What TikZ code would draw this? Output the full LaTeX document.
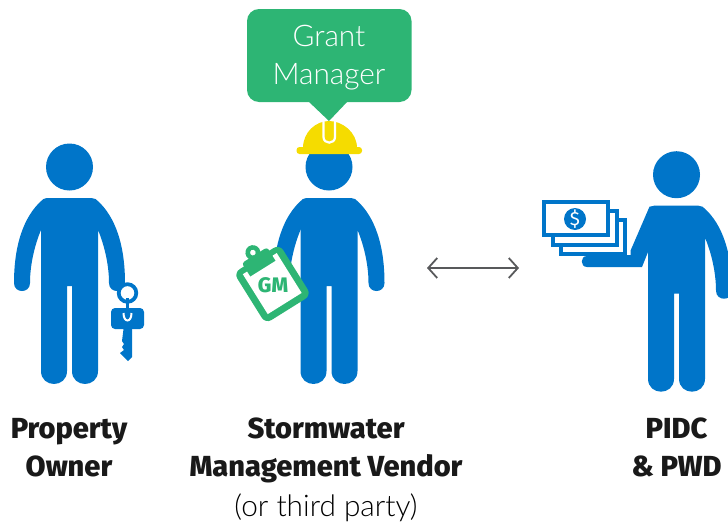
\documentclass[tikz,border=0pt]{standalone}
\usepackage{fontspec}
\setmainfont{Fira Sans}
\newfontfamily\heavyfont{Fira Sans ExtraBold}
\newfontfamily\lightfont{Lato Light}
\usetikzlibrary{positioning, calc, arrows.meta}
\definecolor{figblue}{HTML}{0075C9}
\definecolor{gmgreen}{HTML}{2DB574}
\definecolor{hatyellow}{HTML}{F5DC00}
\definecolor{arrowgray}{HTML}{58595B}
\tikzset{
	label/.style={font=\heavyfont\fontsize{29}{38}\selectfont, text=black!90, align=center, inner sep=0pt},
	thinlabel/.style={font=\lightfont\fontsize{29.8}{38}\selectfont, align=center, inner sep=0pt},
	note/.style={draw=figblue, line width=3.8pt, fill=white},
	pics/person/.style={code={
		\fill[figblue] (0, -31) circle[radius=23.5];
		\fill[figblue] (-22, 0) -- (22, 0) .. controls (24, 0) .. (26, 1)
			.. controls (42, 14) and (55.5, 40) .. (55.5, 85)
			.. controls (55.5, 95.7) and (39.5, 95.7) .. (39.5, 85)
			.. controls (39.5, 65) and (34, 45) .. (28.5, 32)
			-- (28.5, 173) .. controls (28.5, 190.3) and (2.5, 190.3) .. (2.5, 173)
			-- (2.5, 88) -- (-2.5, 88) -- (-2.5, 173)
			.. controls (-2.5, 190.3) and (-28.5, 190.3) .. (-28.5, 173)
			-- (-28.5, 32) -- (-28.5, 5) .. controls (-28, 2) and (-25, 0) .. (-22, 0) -- cycle;
	}},
	pics/hangarm/.style={code={
		\fill[figblue] (-22, 0) .. controls (-24, 0) .. (-26, 1)
			.. controls (-42, 14) and (-55.5, 40) .. (-55.5, 85)
			.. controls (-55.5, 95.7) and (-39.5, 95.7) .. (-39.5, 85)
			.. controls (-39.5, 65) and (-34, 45) .. (-28.5, 32) -- (-20, 20) -- cycle;
	}}
}
\begin{document}
\begin{tikzpicture}[x=1pt, y=-1pt]
	\useasboundingbox (0, 0) rectangle (728, 522);

	% property owner
	\pic at (69.5, 198) {person};
	\pic at (69.5, 198) {hangarm};
	\draw[figblue, fill=white, line width=3.8pt] (127.5, 293) circle[radius=8.8];
	\draw[figblue, line width=3.4pt] (127.5, 298) -- (127.5, 312);
	\fill[figblue, rounded corners=4pt] (111, 308) rectangle (144, 329);
	\fill[figblue] (124, 325) -- (132, 325) -- (132, 357) -- (128, 361) -- (120, 353) -- (124, 350)
		-- (122, 347) -- (124, 344) -- (122, 341) -- cycle;
	\draw[white, line width=2pt] (123.5, 313) .. controls (123.5, 323) and (131.5, 323) .. (131.5, 313);

	% vendor
	\pic at (329, 198) {person};
	\pic at (329, 198) {hangarm};
	\fill[gmgreen, rounded corners=12pt] (247, 9) rectangle (411.5, 102);
	\fill[gmgreen] (308, 101) -- (329, 121) -- (348, 101) -- cycle;
	\node[thinlabel, text=white, anchor=base] (grant) at (329, 46) {Grant};
	\node[thinlabel, text=white, anchor=base] (manager) at (329, 84) {Manager};
	\fill[hatyellow] (303, 148) .. controls (303, 132) and (316, 121) .. (329, 121)
		.. controls (342, 121) and (357, 132) .. (357, 148) -- cycle;
	\fill[hatyellow, rounded corners=3pt] (296.5, 147) rectangle (362, 154);
	\draw[white, line width=2.2pt] (323.5, 120.5) -- (323.5, 137)
		.. controls (323.5, 144.5) and (335, 144.5) .. (335, 137) -- (335, 120.5);
	\begin{scope}[shift={(272.5, 284)}, rotate=32]
		\fill[gmgreen, rounded corners=7pt] (-27, -30) rectangle (27, 30);
		\fill[gmgreen, rounded corners=3pt] (-15, -20) rectangle (15, -34);
		\fill[gmgreen] (0, -37) circle[radius=7.5];
		\fill[white] (0, -37) circle[radius=2.8];
		\fill[white] (-20, -24) -- (-15, -24) -- (-15, -18) -- (15, -18) -- (15, -24) -- (20, -24)
			-- (20, 23) -- (-20, 23) -- cycle;
		\node[font=\heavyfont\fontsize{21}{21}\selectfont, text=gmgreen, inner sep=0pt] (gm) at (0, 1) {GM};
	\end{scope}

	% pidc
	\pic at (676.5, 205.7) {person};
	\fill[figblue] (654.5, 205.7) -- ++(-5, 1) -- ++(-19, 44) -- ++(0, 4.3) -- (587, 256)
		.. controls (580, 256) and (580, 267) .. (587, 267) -- (642, 267) -- (648, 252) -- (650, 210) -- cycle;
	\draw[note] (560.8, 219.8) rectangle (625.2, 254.2);
	\draw[note] (552.8, 210.8) rectangle (617.2, 245.2);
	\draw[note] (543.8, 201.8) rectangle (608.2, 235.2);
	\fill[figblue] (575, 219) circle[radius=11];
	\node[font=\fontsize{19}{19}\selectfont, text=white, inner sep=0pt] (dollar) at (575, 219) {\$};

	% exchange arrow
	\coordinate (vendorside) at (427, 268);
	\coordinate (pidcside) at (519, 268);
	\draw[arrowgray, line width=1.8pt, {Straight Barb[length=9pt, width=20pt]}-{Straight Barb[length=9pt, width=20pt]}] (vendorside) -- (pidcside);

	% labels
	\node[label, anchor=base] (property) at (69, 438) {Property};
	\node[label, anchor=base] (owner) at (69, 476) {Owner};
	\node[label, anchor=base] (stormwater) at (326, 438) {Stormwater};
	\node[label, anchor=base] (management) at (326, 476) {Management Vendor};
	\node[thinlabel, anchor=base] (third) at (326, 516) {(or third party)};
	\node[label, anchor=base] (pidc) at (676.5, 438) {PIDC};
	\node[label, anchor=base] (pwd) at (676.5, 476) {\& PWD};
\end{tikzpicture}
\end{document}
